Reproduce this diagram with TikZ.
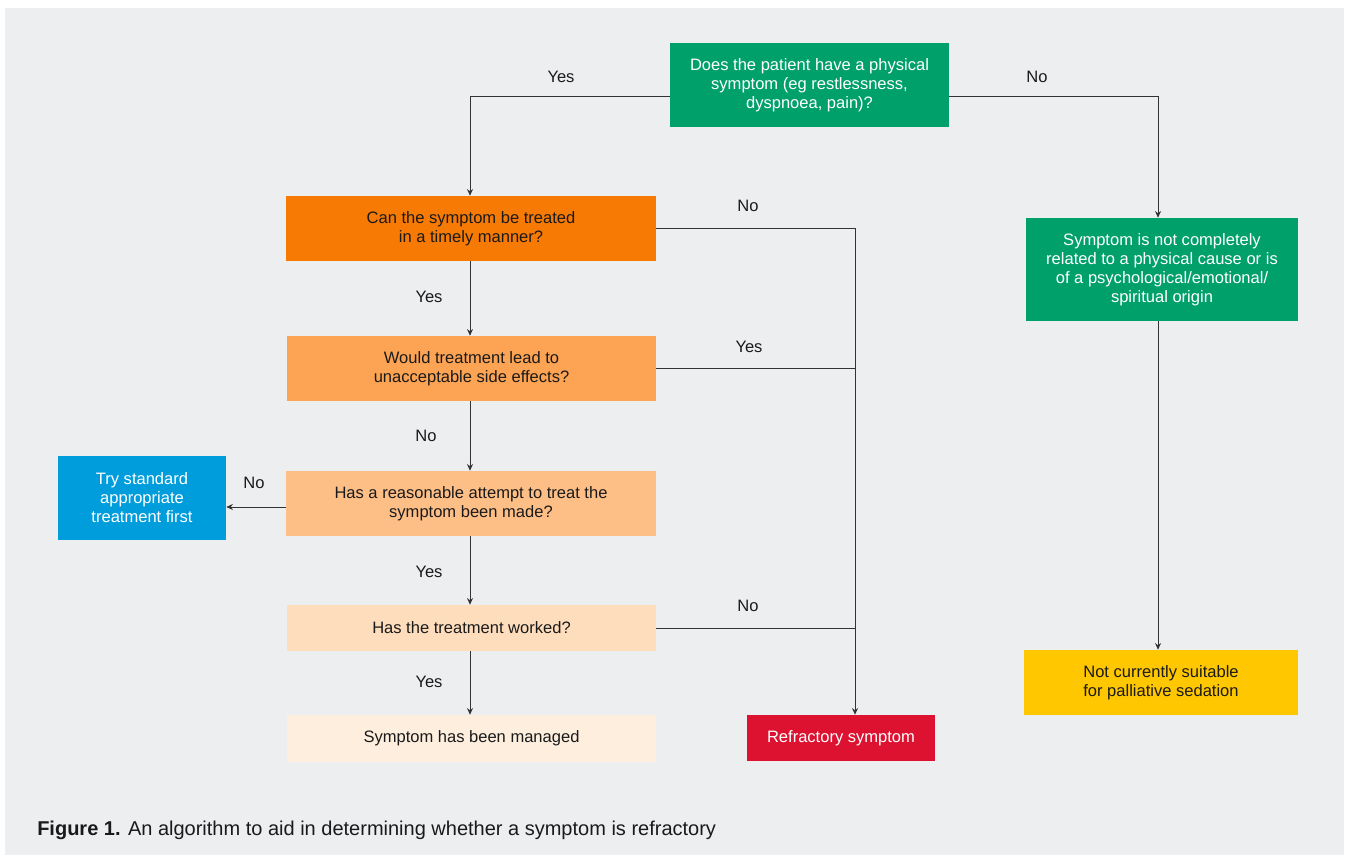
\documentclass[tikz,border=0pt]{standalone}
\usepackage{fontspec}
\setmainfont{Liberation Sans}
\newfontfamily\capfont{Liberation Sans}
\usetikzlibrary{arrows.meta}
\definecolor{bg}{HTML}{EDEEF0}
\definecolor{grn}{HTML}{00A06B}
\definecolor{or1}{HTML}{F77A05}
\definecolor{or2}{HTML}{FCA454}
\definecolor{or3}{HTML}{FEBF87}
\definecolor{or4}{HTML}{FEDDBC}
\definecolor{or5}{HTML}{FDEEDE}
\definecolor{blu}{HTML}{009DDC}
\definecolor{rd}{HTML}{DD1230}
\definecolor{yel}{HTML}{FFC700}
\definecolor{ln}{HTML}{333333}
\definecolor{tx}{HTML}{1A1A1A}
\newcommand{\boxfont}{\fontsize{12.4}{14.3}\selectfont}
\begin{document}
\begin{tikzpicture}[x=0.75pt,y=-0.75pt,
  box/.style={rectangle, inner sep=0pt, align=center, font=\boxfont, text=tx},
  wbox/.style={box, text=white},
  lbl/.style={font=\boxfont, text=tx, inner sep=0pt},
  conn/.style={draw=ln, line width=0.75pt},
  arr/.style={conn, -{Stealth[length=5pt,width=4.5pt]}}]
\useasboundingbox (0,0) rectangle (1349,860);
\fill[white] (0,0) rectangle (1349,860);
\fill[bg] (5,8) rectangle (1344,855);
% nodes
\node[wbox, fill=grn, minimum width=209.25pt, minimum height=63pt] (q1) at (809.5,85) {Does the patient have a physical\\symptom (eg restlessness,\\dyspnoea, pain)?};
\node[box, fill=or1, minimum width=277.5pt, minimum height=48.75pt] (can) at (471,228.5) {Can the symptom be treated\\in a timely manner?};
\node[box, fill=or2, minimum width=276.75pt, minimum height=48.75pt] (would) at (471.5,368.5) {Would treatment lead to\\unacceptable side effects?};
\node[box, fill=or3, minimum width=277.5pt, minimum height=48.75pt] (att) at (471,503.5) {Has a reasonable attempt to treat the\\symptom been made?};
\node[box, fill=or4, minimum width=276.75pt, minimum height=34.5pt] (worked) at (471.5,628) {Has the treatment worked?};
\node[box, fill=or5, minimum width=276.75pt, minimum height=35.25pt] (managed) at (471.5,738.5) {Symptom has been managed};
\node[wbox, fill=blu, minimum width=126pt, minimum height=63pt] (try) at (142,498) {Try standard\\appropriate\\treatment first};
\node[wbox, fill=rd, minimum width=141pt, minimum height=34.5pt] (refr) at (841,738) {Refractory symptom};
\node[wbox, fill=grn, minimum width=204pt, minimum height=77.25pt] (notphys) at (1162,269.5) {Symptom is not completely\\related to a physical cause or is\\of a psychological/emotional/\\spiritual origin};
\node[box, fill=yel, minimum width=205.5pt, minimum height=48.75pt] (notsuit) at (1161,682.5) {Not currently suitable\\for palliative sedation};
% helper coordinates
\coordinate (lx) at (470,0);
\coordinate (mx) at (855,0);
\coordinate (rx) at (1158,0);
\coordinate (ty) at (0,96);
\coordinate (ay) at (0,507);
% connectors
\draw[arr] (q1.west |- ty) -- (lx |- ty) -- (lx |- can.north);
\draw[arr] (q1.east |- ty) -- (rx |- ty) -- (rx |- notphys.north);
\draw[arr] (rx |- notphys.south) -- (rx |- notsuit.north);
\draw[arr] (lx |- can.south) -- (lx |- would.north);
\draw[arr] (lx |- would.south) -- (lx |- att.north);
\draw[arr] (lx |- att.south) -- (lx |- worked.north);
\draw[arr] (lx |- worked.south) -- (lx |- managed.north);
\draw[arr] (att.west |- ay) -- (try.east |- ay);
\draw[arr] (can.east) -- (can.east -| mx) -- (mx |- refr.north);
\draw[conn] (would.east) -- (would.east -| mx);
\draw[conn] (worked.east) -- (worked.east -| mx);
% labels
\node[lbl] (l1) at (561,77) {Yes};
\node[lbl] (l2) at (1037,77) {No};
\node[lbl] (l3) at (748,206) {No};
\node[lbl] (l4) at (749,347) {Yes};
\node[lbl] (l5) at (748,606) {No};
\node[lbl] (l6) at (429,297) {Yes};
\node[lbl] (l7) at (426,436) {No};
\node[lbl] (l8) at (254,483) {No};
\node[lbl] (l9) at (429,572) {Yes};
\node[lbl] (l10) at (429,682) {Yes};
% caption
\node[anchor=west, inner sep=0pt, text=tx, font=\capfont\fontsize{15}{17}\selectfont] (cap) at (37,830) {\textbf{Figure 1.} An algorithm to aid in determining whether a symptom is refractory};
\end{tikzpicture}
\end{document}
